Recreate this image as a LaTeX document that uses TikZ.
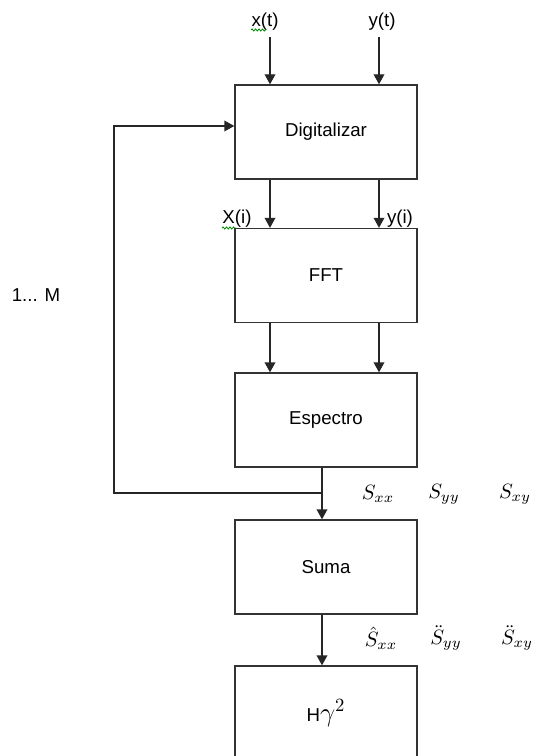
\documentclass[tikz,border=0pt]{standalone}
\usepackage{fontspec}
\setmainfont{Liberation Sans}
\usetikzlibrary{arrows.meta,decorations.pathmorphing}
\newcommand{\biglabel}[1]{\scalebox{1.55}{$#1$}}
\begin{document}
\begin{tikzpicture}[x=0.75pt,y=-0.75pt,
  line width=1pt,
  box/.style={draw=black!80, rectangle, minimum width=136.5pt, minimum height=70.5pt,
    inner sep=0pt, font=\fontsize{14}{16}\selectfont},
  arr/.style={draw=black!85, -{Triangle[width=8pt,length=7.5pt]}},
  lbl/.style={inner sep=0pt, font=\fontsize{14}{16}\selectfont},
  mlbl/.style={inner sep=0pt, font=\normalsize},
  squiggle/.style={draw=green!55!black, line width=0.6pt,
    decorate, decoration={snake, amplitude=0.8pt, segment length=2.6pt}}]
  \useasboundingbox (0,0) rectangle (534,756);
  \clip (0,0) rectangle (534,756);

  % processing blocks
  \node[box] (dig)  at (326,132)   {Digitalizar};
  \node[box] (fft)  at (326,275.5) {FFT};
  \node[box] (esp)  at (326,420)   {Espectro};
  \node[box] (suma) at (326,567)   {Suma};
  \node[box] (coh)  at (326,713)   {H\scalebox{1.4}{$\gamma^{2}$}};

  % signal names
  \node[lbl] (xt) at (265,22) {x(t)};
  \node[lbl] (yt) at (382,22) {y(t)};
  \node[lbl] (xi) at (237,219) {X(i)};
  \node[lbl] (yi) at (400,219) {y(i)};
  \node[lbl] (loop) at (36,295) {1... M};

  % spelling marks under the lower-case names
  \draw[squiggle] (251,30) -- (266,30);
  \draw[squiggle] (222,228) -- (236,228);

  % spectra labels
  \node[mlbl] (sxx) at (378,494) {\biglabel{S_{xx}}};
  \node[mlbl] (syy) at (444,494) {\biglabel{S_{yy}}};
  \node[mlbl] (sxy) at (515,494) {\biglabel{S_{xy}}};
  \node[mlbl] (hxx) at (381,638) {\biglabel{\hat{S}_{xx}}};
  \node[mlbl] (hyy) at (446,638) {\biglabel{\ddot{S}_{yy}}};
  \node[mlbl] (hxy) at (517,638) {\biglabel{\ddot{S}_{xy}}};

  % channel positions
  \coordinate (cx) at (270,0);
  \coordinate (cy) at (379,0);
  \coordinate (cm) at (322,0);
  \coordinate (inx) at (270,37);
  \coordinate (iny) at (379,37);
  \coordinate (tap) at (322,493);
  \coordinate (back) at (114,493);
  \coordinate (top) at (114,126);

  % inputs
  \draw[arr] (inx) -- (inx |- dig.north);
  \draw[arr] (iny) -- (iny |- dig.north);
  % Digitalizar -> FFT
  \draw[arr] (cx |- dig.south) -- (cx |- fft.north);
  \draw[arr] (cy |- dig.south) -- (cy |- fft.north);
  % FFT -> Espectro
  \draw[arr] (cx |- fft.south) -- (cx |- esp.north);
  \draw[arr] (cy |- fft.south) -- (cy |- esp.north);
  % Espectro -> Suma
  \draw[arr] (cm |- esp.south) -- (cm |- suma.north);
  % loop back to Digitalizar
  \draw[arr] (tap) -- (back) -- (top) -- (top -| dig.west);
  % Suma -> H gamma^2
  \draw[arr] (cm |- suma.south) -- (cm |- coh.north);
\end{tikzpicture}
\end{document}
